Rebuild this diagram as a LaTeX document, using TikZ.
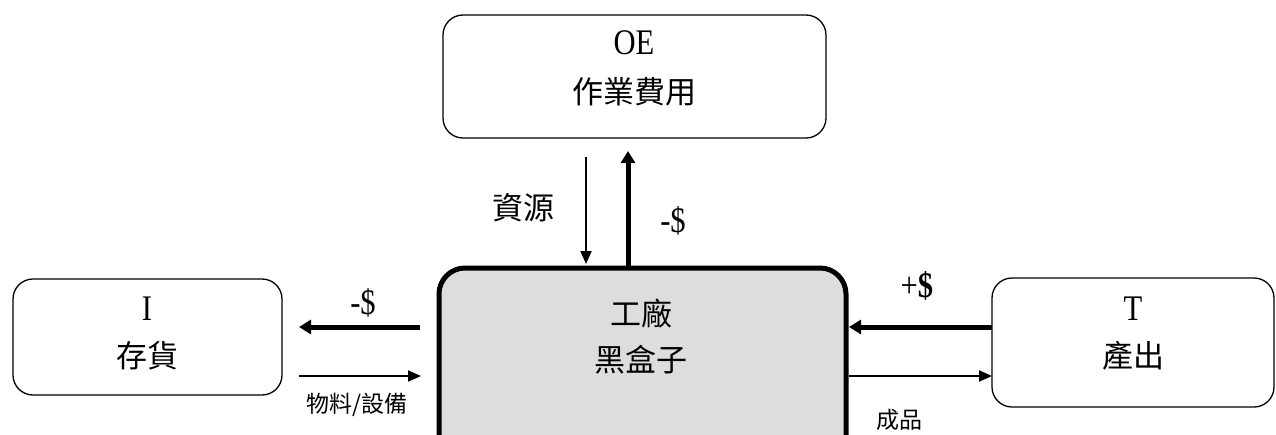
\documentclass[tikz,border=0pt]{standalone}
\usepackage{fontspec}
\setmainfont{Liberation Serif}
\newfontfamily\cjk{Noto Sans CJK TC}
\usetikzlibrary{arrows.meta}
\definecolor{boxgray}{HTML}{DDDDDD}
\newcommand\narrowtxt[1]{\scalebox{0.85}[1]{#1}}
\tikzset{
  box/.style={draw=black, line width=1.3pt, rounded corners=20pt, fill=white},
  bigbox/.style={draw=black, line width=5pt, rounded corners=26pt, fill=boxgray},
  lat/.style={font=\fontsize{36}{36}\selectfont, inner sep=0pt},
  han/.style={font=\cjk\fontsize{31}{31}\selectfont, inner sep=0pt},
  small/.style={font=\cjk\fontsize{23}{23}\selectfont, inner sep=0pt},
  thinarrow/.style={line width=2pt, -{Triangle[length=13pt,width=11pt]}},
  thickarrow/.style={line width=5pt, -{Triangle[length=12pt,width=14pt]}},
}
\begin{document}
\begin{tikzpicture}[x=1pt,y=-1pt]
\useasboundingbox (0,0) rectangle (1276,434);
\clip (0,0) rectangle (1276,434);
% boxes
\path[box] (443,15) rectangle (826,138);
\node[lat] (oe1) at (634,43) {\narrowtxt{OE}};
\node[han] (oe2) at (634,92) {作業費用};
\path[box] (13,279) rectangle (282,395);
\node[lat] (i1) at (147,309) {\narrowtxt{I}};
\node[han] (i2) at (147,356) {存貨};
\path[box] (992,278) rectangle (1274,407);
\node[lat] (t1) at (1133,309) {\narrowtxt{T}};
\node[han] (t2) at (1133,356) {產出};
\path[bigbox] (439,268) rectangle (846,470);
\node[han] (f1) at (641,313) {工廠};
\node[han] (f2) at (641,360) {黑盒子};
% coordinates
\coordinate (a1s) at (586,157);
\coordinate (a1e) at (586,264);
\coordinate (a2s) at (628,266);
\coordinate (a2e) at (628,151);
\coordinate (a3s) at (420,327);
\coordinate (a3e) at (299,327);
\coordinate (a4s) at (299,376);
\coordinate (a4e) at (421,376);
\coordinate (a5s) at (992,327);
\coordinate (a5e) at (849,327);
\coordinate (a6s) at (849,376);
\coordinate (a6e) at (992,376);
% arrows
\draw[thinarrow] (a1s) -- (a1e);
\draw[thickarrow] (a2s) -- (a2e);
\draw[thickarrow] (a3s) -- (a3e);
\draw[thinarrow] (a4s) -- (a4e);
\draw[thickarrow] (a5s) -- (a5e);
\draw[thinarrow] (a6s) -- (a6e);
% labels
\node[han] (l1) at (523,208) {資源};
\node[lat] (l2) at (673,221) {\narrowtxt{-\$}};
\node[lat] (l3) at (363,303) {\narrowtxt{-\$}};
\node[small] (l4) at (357,405) {物料/設備};
\node[lat] (l5) at (917,286) {\narrowtxt{+\textbf{\$}}};
\node[small] (l6) at (899,420) {成品};
\end{tikzpicture}
\end{document}
